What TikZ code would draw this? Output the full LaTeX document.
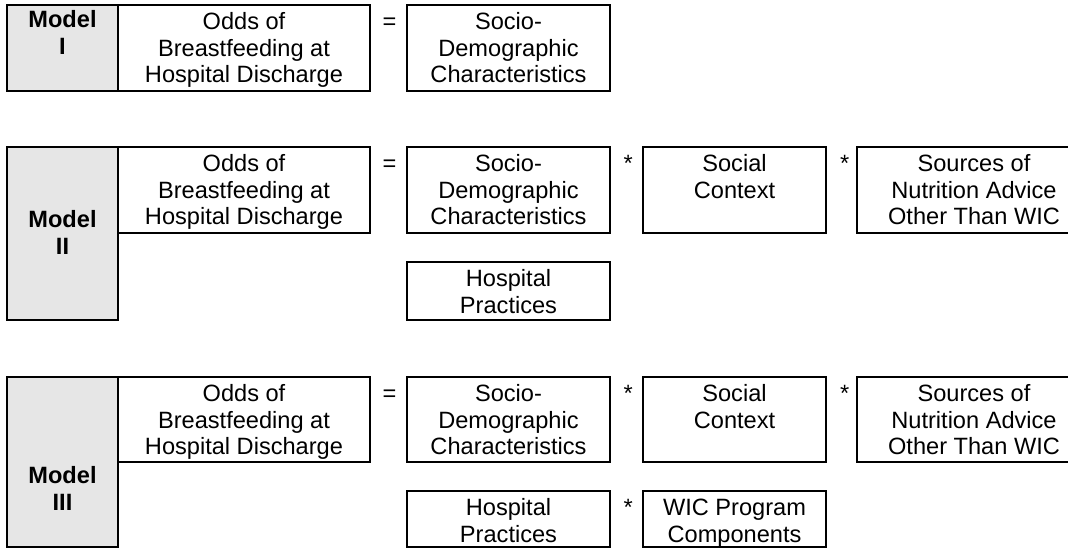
\documentclass[tikz,border=0pt]{standalone}
\usepackage{fontspec}
\setmainfont{Liberation Sans}
\definecolor{cellgray}{RGB}{230,230,230}
\newcommand\cellbox[4]{\parbox[c][#2][t]{#1}{\centering\rule{0pt}{#3}#4}}
\tikzset{
  cell/.style={draw=black, line width=2pt, inner sep=0pt, outer sep=0pt,
    anchor=north west, font=\fontsize{23.6}{26.6}\selectfont},
  modelcell/.style={cell, fill=cellgray, font=\fontsize{23.6}{27.7}\selectfont\bfseries},
  op/.style={inner sep=0pt, anchor=base, font=\fontsize{23.6}{26.6}\selectfont}
}
\begin{document}
\begin{tikzpicture}[x=1pt,y=-1pt]
\useasboundingbox (0,0) rectangle (1068,548);
\clip (0,0) rectangle (1068,548);
% ---------------- Model I
\node[modelcell] (m1) at (7,5) {\cellbox{111pt}{86pt}{22.3pt}{Model\\I}};
\node[cell] (m1odds) at (118,5) {\cellbox{252pt}{86pt}{24.5pt}{Odds of\\Breastfeeding at\\Hospital Discharge}};
\node[op] (m1eq) at (389.5,29.5) {=};
\node[cell] (m1socio) at (407,5) {\cellbox{203pt}{86pt}{24.5pt}{Socio-\\Demographic\\Characteristics}};
% ---------------- Model II
\node[modelcell] (m2) at (7,147) {\cellbox{111pt}{173pt}{80.3pt}{Model\\II}};
\node[cell] (m2odds) at (118,147) {\cellbox{252pt}{86pt}{24.5pt}{Odds of\\Breastfeeding at\\Hospital Discharge}};
\node[op] (m2eq) at (389.5,171.5) {=};
\node[cell] (m2socio) at (407,147) {\cellbox{203pt}{86pt}{24.5pt}{Socio-\\Demographic\\Characteristics}};
\node[op] (m2s1) at (628.3,171.5) {*};
\node[cell] (m2soc) at (643,147) {\cellbox{183pt}{86pt}{24.5pt}{Social\\Context}};
\node[op] (m2s2) at (844.7,171.5) {*};
\node[cell] (m2src) at (857,147) {\cellbox{234pt}{86pt}{24.5pt}{Sources of\\Nutrition Advice\\Other Than WIC}};
\node[cell] (m2hosp) at (407,262) {\cellbox{203pt}{58pt}{24.5pt}{Hospital\\Practices}};
% ---------------- Model III
\node[modelcell] (m3) at (7,377) {\cellbox{111pt}{170pt}{106pt}{Model\\III}};
\node[cell] (m3odds) at (118,377) {\cellbox{252pt}{85pt}{24.5pt}{Odds of\\Breastfeeding at\\Hospital Discharge}};
\node[op] (m3eq) at (389.5,401.5) {=};
\node[cell] (m3socio) at (407,377) {\cellbox{203pt}{85pt}{24.5pt}{Socio-\\Demographic\\Characteristics}};
\node[op] (m3s1) at (628.3,401.5) {*};
\node[cell] (m3soc) at (643,377) {\cellbox{183pt}{85pt}{24.5pt}{Social\\Context}};
\node[op] (m3s2) at (844.7,401.5) {*};
\node[cell] (m3src) at (857,377) {\cellbox{234pt}{85pt}{24.5pt}{Sources of\\Nutrition Advice\\Other Than WIC}};
\node[cell] (m3hosp) at (407,491) {\cellbox{203pt}{56pt}{24.5pt}{Hospital\\Practices}};
\node[op] (m3s3) at (628.3,515.5) {*};
\node[cell] (m3wic) at (643,491) {\cellbox{183pt}{56pt}{24.5pt}{WIC Program\\Components}};
\end{tikzpicture}
\end{document}
